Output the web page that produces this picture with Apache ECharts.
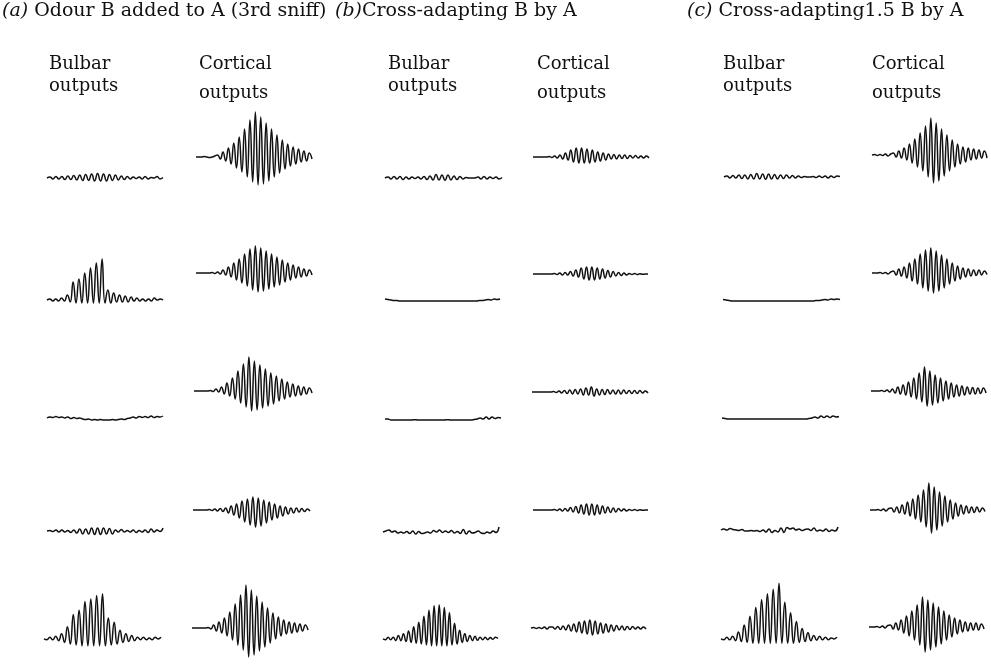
<!DOCTYPE html>
<html><head><meta charset="utf-8">
<script src="https://cdn.jsdelivr.net/npm/echarts@6/dist/echarts.min.js"></script>
<style>html,body{margin:0;padding:0;background:#fff}#c{width:991px;height:665px}</style>
</head><body><div id="c"></div>
<script>
// ---- Panel titles and column headers ----
const panelTitles = [["(a)", " Odour B added to A (3rd sniff)"], ["(b)", "Cross-adapting B by A"], ["(c)", " Cross-adapting1.5 B by A"]];
const colHeaders = [["Bulbar", "outputs"], ["Cortical", "outputs"]];

// ---- Trace deflections (px units, + = up) ----
// (a) Odour B added to A
const aBul1 = [0,1,-1,1.5,-1,1.5,-1.5,2,-1.5,2.5,-2,3,-2.5,3.5,-2.5,4,-3,4.5,-3,4,-3,3.5,-2.5,3,-2,2,-1.5,1.5,-1,1,-0.5,1,-1,1.5,-1,0.5,0,1.5,-1,0.5];
const aBul2 = [0,1,-1,1,-1,2,-1,5,-2,18,-3,21,-3,27,-3,32,-3,37,-3,41,-3,10,-3,7,-2,5,-2,4,-2,3,-1,2,-1,1,-1,1,-1,2,0,1,0];
const aBul3 = [0,1,0.5,1.5,0.5,1,0,1,-0.5,0.5,-0.5,0,-1,-1.5,-1,-2,-1.5,-2,-1.5,-2,-2,-2,-1.5,-2,-1.5,-1,-1.5,-0.5,0,1,0,1.5,0.5,1.5,0.5,2,0.5,1.5,1,2];
const aBul4 = [0,0.5,-0.5,1,-1,1,-1,0.5,-1.5,1,-2,2,-3,2,-3,3,-3.5,3,-3.5,3,-3,2.5,-3,1,-1,1.5,-1,0.5,-1,1,-1.5,0.5,-1,1,-1.5,2,-1,1,-0.5,3];
const aBul5 = [0,-1,2,-1,3,-2,6,-4,14,-6,28,-7,33,-8,43,-8,46,-8,50,-8,52,-8,24,-7,19,-6,10,-4,6,-3,4,-2,2,-1,2,-1,1,-1,2,0,2];
const aCor1 = [0,0,0,0.5,0,-0.5,0,1,2,-2,5,-4,9,-7,14,-11,20,-15,28,-20,37,-25,45,-28,40,-27,34,-24,28,-20,22,-16,17,-12,13,-9,10,-7,8,-5,6,-4,4,-2];
const aCor2 = [0,0,0,0,0,0,0.5,-0.5,1,-1,3,-2,6,-4,10,-7,14,-10,19,-13,24,-17,27,-19,25,-18,22,-16,19,-14,16,-12,13,-9,10,-7,8,-5,6,-4,4,-3,3,-2];
const aCor3 = [0,0,0,0,0,0,0.5,-0.5,2,-1,4,-3,8,-5,13,-8,20,-12,27,-16,34,-20,30,-19,26,-17,22,-15,18,-13,15,-10,12,-8,9,-6,7,-5,5,-4,4,-3,3,-2];
const aCor4 = [0,0,0,0,0,0,0.5,-0.5,1,-1,1.5,-1.5,2,-3,4,-5,6,-8,9,-12,11,-15,13,-17,12,-16,10,-13,8,-10,6,-8,4,-6,3,-4,2,-3,2,-2,1.5,-1.5,1,-1];
const aCor5 = [0,0,0,0,0,0,0.5,-1,3,-3,6,-5,10,-8,16,-12,24,-17,33,-22,43,-29,38,-27,32,-23,26,-19,20,-15,15,-11,11,-8,8,-6,6,-5,5,-4,4,-3,3,-2];
// (b) Cross-adapting B by A
const bBul1 = [0,1,-1,1.5,-1,1.5,-1.5,1,-1,1,-0.5,1,-1,1.5,-1.5,2,-2,3.5,-2,3,-2.5,3,-2,2,-1.5,1.5,-1,0.5,0,0,0,1,-1,1.5,-1,1,-0.5,1,-1,0.5];
const bBul2 = [1,0.5,0,-0.5,-0.5,-1,-1,-1,-1,-1,-1,-1,-1,-1,-1,-1,-1,-1,-1,-1,-1,-1,-1,-1,-1,-1,-1,-1,-1,-1,-1,-1,-0.5,-0.5,0,0.5,0,1,0.5,1];
const bBul3 = [1,1,0,0,0,0,0,0,0,0,0.3,0,0,0,0,0,0,0,0,0,0,0.3,0,0,0,0,0,0,0,0,0.5,1,2,1,3,1,3,1.5,2.5,2];
const bBul4 = [0,1,2,0,1,-1,0,-1,0.5,-1.5,1,-2,0.5,-1.5,-1,0,-1,1.5,0,2,-0.5,1,-0.5,1.5,-1,0.5,-1.5,2.5,-2,1,-1,-0.5,1,-1,-1.5,0,-1,1,-0.5,5];
const bBul5 = [0,-1,2,-1,2,-2,4,-2,6,-3,9,-4,14,-5,19,-6,26,-7,33,-8,38,-8,39,-8,36,-8,30,-7,18,-6,10,-4,6,-3,4,-2,3,-1.5,2,-1,2,-1,1.5,-0.5,2,0.5];
const bCor1 = [0,0,0,0,0,0,0.5,-0.5,1,-1,2,-2,4,-3,7,-5,9,-6,9,-6,8,-6,7,-5,5,-4,4,-3,3,-2,2.5,-2,2,-1.5,2,-1.5,1.5,-1,1.5,-1,1,-1,1,-1];
const bCor2 = [0,0,0,0,0,0,0,0,0.5,-0.5,1,-1,1.5,-1,2.5,-2,4,-3,6,-5,7,-6,7,-6,6,-5,5,-4,3.5,-3,2.5,-2,1.5,-1.5,1,-1,0.5,-0.5,0.5,-0.5,0.3,-0.3,0,0];
const bCor3 = [0,0,0,0,0,0,0,0,0.5,-0.5,1,-1,1.5,-1.5,2,-2,2.5,-2,3,-3,4,-3,5,-4,3,-3,2.5,-2.5,2.5,-2,2,-2,2,-2,2,-1.5,1.5,-1.5,1.5,-1.5,1.5,-1,1,-1];
const bCor4 = [0,0,0,0,0,0,0,0,0.5,-0.5,1,-1,1.5,-1,2.5,-2,3.5,-3,5,-4,6,-5,6,-5,5,-4,4,-3,3,-2.5,2,-2,1.5,-1,1,-1,0.5,-0.5,0.5,-0.5,0.3,-0.3,0,0];
const bCor5 = [0,0.5,-0.5,0.5,-0.5,1,-1,1,1,-1,1.5,-1.5,2,-2,3,-3,4,-4,6,-5,7,-6,8,-7,7,-6,5,-5,4,-4,3,-3,2.5,-2,2,-2,1.5,-1.5,1.5,-1,1,-1,1,-1];
// (c) Cross-adapting 1.5 B by A
const cBul1 = [0,1,-1,1.5,-1,2,-1.5,2,-2,2.5,-2,3.5,-2,3,-2.5,3,-2,2.5,-2,2,-1.5,2,-1,1.5,-1,1,-0.5,0.5,0,0,0.5,-0.5,1,-0.5,1,-1,1,-0.5,1,0.5];
const cBul2 = [0.5,0,-0.5,-1,-1,-1,-1,-1,-1,-1,-1,-1,-1,-1,-1,-1,-1,-1,-1,-1,-1,-1,-1,-1,-1,-1,-1,-1,-1,-1,-1,-0.5,-0.5,0,0.5,0,1,0.5,1,0.5];
const cBul3 = [1,0.5,0,0,0,0,0,0,0,0,0,0,0,0,0,0,0,0,0,0,0,0,0,0,0,0,0,0,0,0.5,1,2,1,3,1.5,3,1.5,3,2,2.5];
const cBul4 = [0,1,0,1.5,0.5,0,-0.5,0.5,-1,-1,-0.5,-1,-0.5,-1.5,0,-2,1,-2.5,-0.5,-2,2,-2.5,2.5,1,2,0,1,-0.5,0.5,1,-0.5,2,-1,0,-1,1,-1.5,0,-1,3];
const cBul5 = [0,-1,2,-1,3,-2,8,-3,16,-4,26,-5,36,-5,45,-5,52,-5,57,-5,64,-5,42,-5,30,-5,20,-4,12,-3,7,-2,4,-1.5,3,-1,2,-1,1,0,2];
const cCor1 = [0,0.5,-0.5,0.5,-0.5,1,-1,1,2,-2,4,-3,7,-5,11,-8,16,-12,22,-16,29,-22,37,-28,32,-26,26,-21,20,-16,15,-12,11,-9,8,-7,7,-5,6,-4,5,-3,4,-3];
const cCor2 = [0,0,0,0.5,-0.5,0.5,-1,1,2,-2,4,-3,6,-5,10,-8,14,-11,19,-15,23,-18,25,-20,22,-18,18,-15,14,-11,10,-8,7,-6,5,-4,4,-3,3,-2.5,3,-2,2,-1.5];
const cCor3 = [0,0,0,0,0.5,-0.5,1,-1,2,-2,4,-3,6,-4,9,-6,13,-8,18,-11,24,-15,20,-14,16,-12,13,-10,10,-8,8,-6,6,-5,5,-4,4,-3,3.5,-3,3,-2.5,3,-2];
const cCor4 = [0,0,0,0.5,-0.5,1,-1,1.5,2,-2,3,-3,5,-4,8,-6,11,-9,15,-12,20,-17,27,-23,23,-20,18,-16,14,-12,10,-9,7,-6,5,-4,4,-3,3,-2.5,3,-2,2,-1.5];
const cCor5 = [0,0,0,0.5,-0.5,1,-1,1.5,2,-2,4,-3,7,-6,11,-9,16,-13,22,-18,30,-25,27,-23,24,-20,20,-17,16,-13,12,-10,9,-7,7,-5,5,-4,4,-3,4,-3,3,-2];

// ---- Layout (positions only) ----
const layout = [
  {d:aBul1,x0:47,x1:163,base:178},{d:aCor1,x0:196,x1:312,base:157},
  {d:aBul2,x0:47,x1:163,base:300},{d:aCor2,x0:196,x1:312,base:273},
  {d:aBul3,x0:47,x1:163,base:418},{d:aCor3,x0:194,x1:312,base:391},
  {d:aBul4,x0:47,x1:163,base:531},{d:aCor4,x0:193,x1:310,base:510},
  {d:aBul5,x0:44,x1:161,base:648},{d:aCor5,x0:192,x1:308,base:628},
  {d:bBul1,x0:385,x1:502,base:178},{d:bCor1,x0:533,x1:649,base:157},
  {d:bBul2,x0:385,x1:500,base:300},{d:bCor2,x0:533,x1:648,base:274},
  {d:bBul3,x0:385,x1:501,base:420},{d:bCor3,x0:532,x1:648,base:392},
  {d:bBul4,x0:383,x1:499,base:532},{d:bCor4,x0:533,x1:648,base:510},
  {d:bBul5,x0:383,x1:498,base:648},{d:bCor5,x0:531,x1:646,base:628},
  {d:cBul1,x0:724,x1:840,base:177},{d:cCor1,x0:872,x1:987,base:155},
  {d:cBul2,x0:723,x1:840,base:300},{d:cCor2,x0:872,x1:987,base:273},
  {d:cBul3,x0:722,x1:839,base:419},{d:cCor3,x0:871,x1:986,base:391},
  {d:cBul4,x0:721,x1:838,base:530},{d:cCor4,x0:870,x1:985,base:510},
  {d:cBul5,x0:721,x1:837,base:648},{d:cCor5,x0:869,x1:984,base:627}
];
const titleX = [2, 335, 687];
const headerX = [[49,199],[388,537],[723,872]];

const FONT = '"DejaVu Serif", "Liberation Serif", serif';
const grid=[], xAxis=[], yAxis=[], series=[];
layout.forEach((t,i)=>{
  grid.push({left:t.x0, width:t.x1-t.x0, top:t.base-70, height:100});
  xAxis.push({type:'category', gridIndex:i, boundaryGap:false, show:false, data:t.d.map((_,k)=>k)});
  yAxis.push({type:'value', gridIndex:i, min:-30, max:70, show:false});
  series.push({type:'line', xAxisIndex:i, yAxisIndex:i, data:t.d, smooth:0.5, showSymbol:false,
    clip:false, silent:true, lineStyle:{color:'#111', width:1.5}});
});

const graphic = [];
panelTitles.forEach((pt,i)=>{
  graphic.push({type:'text', left:titleX[i], top:2, style:{
    text:'{i|'+pt[0]+'}{n|'+pt[1]+'}', rich:{i:{font:'italic 19px '+FONT, fill:'#111'}, n:{font:'19px '+FONT, fill:'#111'}}}});
});
headerX.forEach((hx)=>{
  graphic.push({type:'text', left:hx[0], top:55, style:{text:colHeaders[0][0], font:'18px '+FONT, fill:'#111'}});
  graphic.push({type:'text', left:hx[0], top:77, style:{text:colHeaders[0][1], font:'18px '+FONT, fill:'#111'}});
  graphic.push({type:'text', left:hx[1], top:55, style:{text:colHeaders[1][0], font:'18px '+FONT, fill:'#111'}});
  graphic.push({type:'text', left:hx[1], top:84, style:{text:colHeaders[1][1], font:'18px '+FONT, fill:'#111'}});
});

const chart = echarts.init(document.getElementById('c'));
chart.setOption({animation:false, backgroundColor:'#fff', grid, xAxis, yAxis, series, graphic});
</script></body></html>
